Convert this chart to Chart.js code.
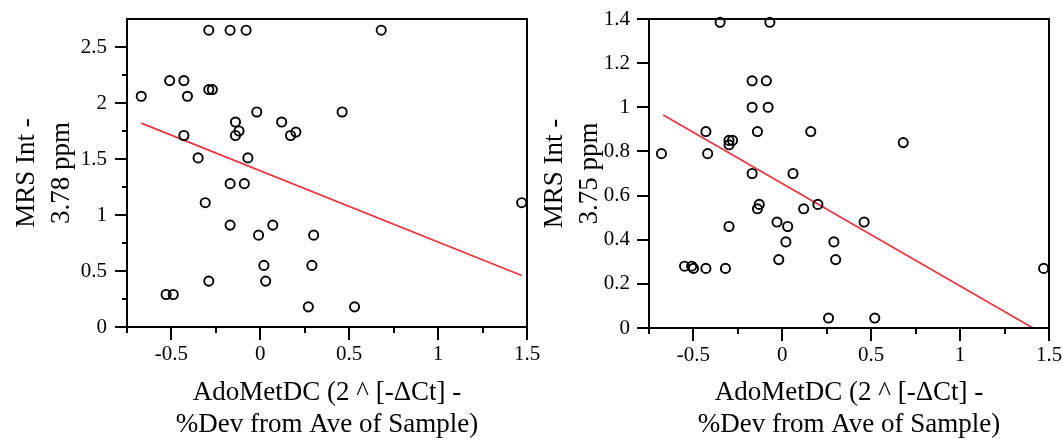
<!DOCTYPE html>
<html>
<head>
<meta charset="utf-8">
<script src="https://cdn.jsdelivr.net/npm/chart.js@4/dist/chart.umd.min.js"></script>
<style>
  html, body { margin: 0; padding: 0; background: #fff; }
  #view { display: block; }
  #work { position: absolute; left: -4000px; top: 0; }
</style>
</head>
<body>
<canvas id="view" width="1063" height="441"></canvas>
<div id="work">
  <canvas id="left" width="560" height="441"></canvas>
  <canvas id="right" width="532" height="441"></canvas>
</div>
<script>
// AdoMetDC vs MRS 3.78 ppm (left panel)
const leftX = [-0.67, -0.51, -0.43, -0.41, -0.29, -0.29, -0.27, -0.17, -0.08, -0.43,
  -0.35, -0.14, -0.12, -0.14, -0.07, -0.02, 0.68, 0.46, 0.12, 0.20,
  0.17, -0.17, -0.09, -0.31, -0.17, -0.01, 0.02, 0.03, -0.29, -0.53,
  -0.49, 0.07, 0.30, 0.29, 0.27, 0.53, 1.47]
const leftY = [2.06, 2.20, 2.20, 2.06, 2.65, 2.12, 2.12, 2.65, 2.65, 1.71,
  1.51, 1.83, 1.75, 1.71, 1.51, 1.92, 2.65, 1.92, 1.83, 1.74,
  1.71, 1.28, 1.28, 1.11, 0.91, 0.82, 0.55, 0.41, 0.41, 0.29,
  0.29, 0.91, 0.82, 0.55, 0.18, 0.18, 1.11]
const leftFitX = [-0.67, 1.47]
const leftFitY = [1.82, 0.46]

// AdoMetDC vs MRS 3.75 ppm (right panel)
const rightX = [-0.35, -0.07, -0.17, -0.09, -0.17, -0.08, -0.43, -0.14, -0.30, -0.28,
  -0.30, -0.68, -0.42, -0.17, 0.06, 0.16, 0.68, -0.13, -0.14, -0.30,
  -0.03, 0.03, 0.02, -0.02, -0.55, -0.51, -0.50, -0.43, -0.32, 0.12,
  0.20, 0.46, 0.29, 0.30, 1.47, 0.26, 0.52]
const rightY = [1.385, 1.385, 1.12, 1.12, 1.00, 1.00, 0.89, 0.89, 0.85, 0.85,
  0.83, 0.79, 0.79, 0.70, 0.70, 0.89, 0.84, 0.56, 0.54, 0.46,
  0.48, 0.46, 0.39, 0.31, 0.28, 0.28, 0.27, 0.27, 0.27, 0.54,
  0.56, 0.48, 0.39, 0.31, 0.27, 0.045, 0.045]
const rightFitX = [-0.67, 1.41]
const rightFitY = [0.965, 0.0]

const xTitle = ['AdoMetDC (2 ^ [-\u0394Ct] -', '%Dev from Ave of Sample)']
const leftYTitle = ['MRS Int -', '3.78 ppm']
const rightYTitle = ['MRS Int -', '3.75 ppm']

const FONT = 'Liberation Serif'
Chart.defaults.color = '#000'
Chart.defaults.font.family = FONT

const FRAME = { display: true, width: 2, color: '#000' }

function pairs(xs, ys) {
  return xs.map((x, i) => ({ x: x, y: ys[i] }))
}

function isMajor(v, step) {
  const r = v / step
  return Math.abs(r - Math.round(r)) < 1e-6
}

function fmt(v) {
  return String(+v.toFixed(2))
}

// no extra room for overflowing labels, the layout padding decides the box
function fixPadding(s) {
  s.paddingTop = 0
  s.paddingBottom = 0
  s.paddingLeft = 0
  s.paddingRight = 0
}

// box round the plot area and outside ticks of two lengths
const tickPlugin = {
  id: 'outTicks',
  afterDraw(chart, args, opts) {
    const { ctx, chartArea: a, scales } = chart
    ctx.save()
    ctx.fillStyle = '#000'
    ctx.fillRect(a.left - 1, a.top - 1, a.right - a.left + 2, 2)
    ctx.fillRect(a.right - 1, a.top - 1, 2, a.bottom - a.top + 2)
    ctx.fillRect(a.left - 1, a.top - 1, 2, a.bottom - a.top + 2)
    ctx.fillRect(a.left - 1, a.bottom - 1, a.right - a.left + 2, 2)

    scales.x.ticks.forEach((t) => {
      const px = Math.round(scales.x.getPixelForValue(t.value))
      const len = isMajor(t.value, 0.5) ? 13 : 6
      ctx.fillRect(px - 1, a.bottom, 2, len)
    })
    scales.y.ticks.forEach((t) => {
      if (!opts.tickAtTop && Math.abs(t.value - scales.y.max) < 1e-6) return
      const py = Math.round(scales.y.getPixelForValue(t.value))
      const len = isMajor(t.value, opts.yMajor) ? 12 : 5
      ctx.fillRect(a.left - len, py - 1, len, 2)
    })
    ctx.restore()
  },
}

function makeChart(id, cfg) {
  return new Chart(document.getElementById(id), {
    type: 'scatter',
    data: {
      datasets: [
        {
          data: pairs(cfg.xs, cfg.ys),
          pointStyle: 'circle',
          pointRadius: 4.6,
          pointBorderWidth: 1.9,
          borderColor: '#000',
          backgroundColor: 'rgba(0,0,0,0)',
          clip: false,
        },
        {
          type: 'line',
          data: pairs(cfg.fitX, cfg.fitY),
          borderColor: '#ec3440',
          borderWidth: 1.7,
          pointRadius: 0,
          fill: false,
        },
      ],
    },
    options: {
      responsive: false,
      animation: false,
      events: [],
      layout: { padding: { top: 19, right: cfg.padRight, left: 0, bottom: 0 } },
      plugins: {
        legend: { display: false },
        tooltip: { enabled: false },
        outTicks: { tickAtTop: cfg.tickAtTop, yMajor: cfg.yMajor },
      },
      scales: {
        x: {
          type: 'linear',
          min: -0.75,
          max: 1.5,
          grid: { display: false, drawTicks: false },
          border: FRAME,
          ticks: {
            stepSize: 0.25,
            autoSkip: false,
            maxRotation: 0,
            padding: 15,
            font: { size: 21, family: FONT },
            callback: (v) => (isMajor(v, 0.5) ? fmt(v) : ''),
          },
          title: {
            display: true,
            text: xTitle,
            font: { size: 27, family: FONT, lineHeight: 1.185 },
            padding: { top: 0, bottom: 0 },
          },
          afterFit: (s) => {
            s.height = cfg.xHeight
            fixPadding(s)
          },
        },
        y: {
          type: 'linear',
          min: 0,
          max: cfg.yMax,
          grid: { display: false, drawTicks: false },
          border: FRAME,
          ticks: {
            stepSize: cfg.yStep,
            autoSkip: false,
            padding: cfg.yTickPad,
            font: { size: 21, family: FONT },
            callback: (v) => {
              if (Math.abs(v - cfg.yMax) < 1e-6 && !cfg.tickAtTop) return ''
              return isMajor(v, cfg.yMajor) ? fmt(v) : ''
            },
          },
          title: {
            display: true,
            text: cfg.yTitle,
            font: { size: 27, family: FONT, lineHeight: 1.3 },
            padding: { top: cfg.yTitlePad, bottom: 0 },
          },
          afterFit: (s) => {
            s.width = cfg.yWidth
            fixPadding(s)
          },
        },
      },
    },
    plugins: [tickPlugin],
  })
}

const leftChart = makeChart('left', {
  xs: leftX, ys: leftY, fitX: leftFitX, fitY: leftFitY,
  yMax: 2.75, yStep: 0.25, yMajor: 0.5, tickAtTop: false, yTickPad: 20,
  yTitle: leftYTitle, yTitlePad: 9, yWidth: 127, xHeight: 114, padRight: 33,
})

const rightChart = makeChart('right', {
  xs: rightX, ys: rightY, fitX: rightFitX, fitY: rightFitY,
  yMax: 1.4, yStep: 0.2, yMajor: 0.2, tickAtTop: true, yTickPad: 19,
  yTitle: rightYTitle, yTitlePad: 6, yWidth: 118, xHeight: 113, padRight: 14,
})

// put both panels side by side on the one visible canvas
function compose() {
  const view = document.getElementById('view').getContext('2d')
  view.fillStyle = '#fff'
  view.fillRect(0, 0, 1063, 441)
  view.drawImage(leftChart.canvas, 0, 0)
  view.drawImage(rightChart.canvas, 531, 0)
}
compose()
</script>
</body>
</html>
